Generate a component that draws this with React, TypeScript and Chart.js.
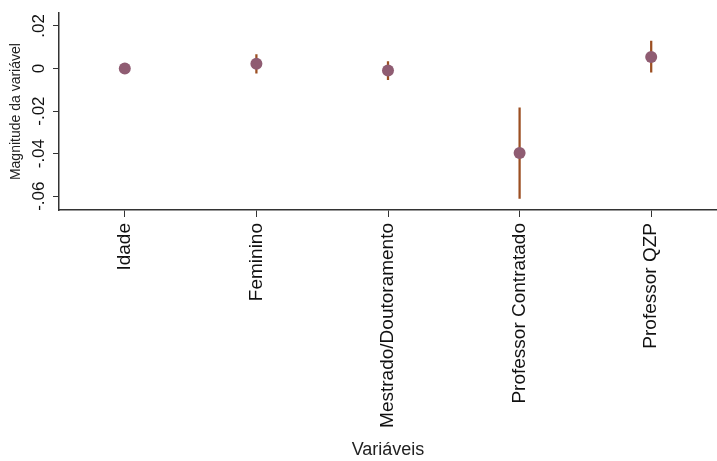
import React, { useEffect, useRef } from "react";
import { Chart, registerables } from "chart.js";

Chart.register(...registerables);

const categories = ["Idade", "Feminino", "Mestrado/Doutoramento", "Professor Contratado", "Professor QZP"];
const estimates = [0.0, 0.0022, -0.0009, -0.0397, 0.0054];
const lowerCI = [-0.0003, -0.0022, -0.0053, -0.0611, -0.0017];
const upperCI = [0.0003, 0.0066, 0.0033, -0.0185, 0.0129];
const yTickValues = [-0.06, -0.04, -0.02, 0, 0.02];
const yTickLabels = ["-.06", "-.04", "-.02", "0", ".02"];
const yMin = -0.0665;
const yMax = 0.026;

const FONT = "'Liberation Sans', Arial, sans-serif";

const rotatedYLabels = {
  id: "rotatedYLabels",
  afterDraw(chart: any) {
    const scale = chart.scales.y;
    const ctx = chart.ctx;
    ctx.save();
    ctx.fillStyle = "#111";
    ctx.font = `17px ${FONT}`;
    ctx.textAlign = "center";
    ctx.textBaseline = "middle";
    yTickValues.forEach((v, i) => {
      const py = scale.getPixelForValue(v);
      ctx.save();
      ctx.translate(39, py);
      ctx.rotate(-Math.PI / 2);
      ctx.fillText(yTickLabels[i], 0, 0);
      ctx.restore();
    });
    ctx.restore();
  },
};

export default function App() {
  const ref = useRef<HTMLCanvasElement | null>(null);
  useEffect(() => {
    if (!ref.current) return;
    const chart = new Chart(ref.current, {
      type: "bar",
      data: {
        labels: categories,
        datasets: [
          {
            type: "line",
            data: estimates,
            showLine: false,
            pointRadius: 6,
            pointHoverRadius: 6,
            pointBackgroundColor: "#8f5c72",
            pointBorderColor: "#8f5c72",
            pointBorderWidth: 0,
            order: 1,
          } as any,
          {
            type: "bar",
            data: lowerCI.map((lo, i) => [lo, upperCI[i]]),
            backgroundColor: "#9c4f22",
            barThickness: 1.6,
            borderSkipped: false,
            order: 2,
          } as any,
        ],
      },
      options: {
        responsive: false,
        animation: false,
        layout: { padding: { left: 0, right: 0, top: 0, bottom: 0 } },
        plugins: { legend: { display: false }, tooltip: { enabled: false } },
        scales: {
          x: {
            type: "category",
            offset: true,
            afterFit: (scale: any) => {
              scale.height = 251;
            },
            grid: { display: true, offset: false, drawOnChartArea: false, drawTicks: true, tickLength: 7, color: "#333", lineWidth: 1 },
            border: { display: true, color: "#333", width: 1.5 },
            ticks: {
              minRotation: 90,
              maxRotation: 90,
              autoSkip: false,
              padding: 6,
              color: "#111",
              font: { family: FONT, size: 19 },
            },
            title: {
              display: true,
              text: "Variáveis",
              color: "#222",
              font: { family: FONT, size: 18 },
              padding: { top: 6, bottom: 0 },
            },
          },
          y: {
            type: "linear",
            min: yMin,
            max: yMax,
            afterBuildTicks: (scale: any) => {
              scale.ticks = yTickValues.map((v) => ({ value: v }));
            },
            afterFit: (scale: any) => {
              scale.width = 59;
            },
            grid: { display: true, drawOnChartArea: false, drawTicks: true, tickLength: 6, color: "#333", lineWidth: 1 },
            border: { display: true, color: "#333", width: 1.5 },
            ticks: {
              color: "rgba(0,0,0,0)",
              font: { family: FONT, size: 17 },
            },
            title: {
              display: true,
              text: "Magnitude da variável",
              color: "#222",
              font: { family: FONT, size: 14 },
              padding: { top: 8, bottom: 0 },
            },
          },
        },
      },
      plugins: [rotatedYLabels],
    });
    return () => chart.destroy();
  }, []);
  return (
    <div style={{ position: "fixed", left: 0, top: 0, width: 717, height: 461, overflow: "hidden", background: "#fff" }}>
      <canvas ref={ref} width={723} height={461} style={{ width: 723, height: 461, display: "block" }} />
    </div>
  );
}
